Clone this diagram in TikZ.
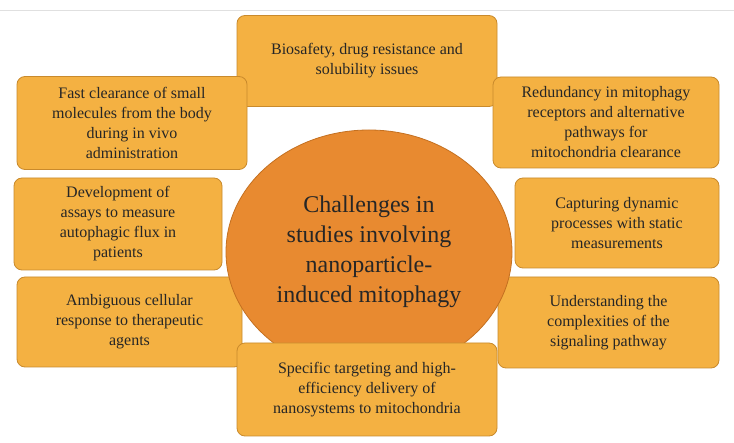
\documentclass[tikz,border=0pt]{standalone}
\usepackage{fontspec}
\setmainfont{Liberation Serif}
\usetikzlibrary{shapes.geometric}
\definecolor{boxfill}{HTML}{F4B142}
\definecolor{boxline}{HTML}{C98A2C}
\definecolor{ellfill}{HTML}{E88A30}
\definecolor{ellline}{HTML}{C47020}
\definecolor{txt}{HTML}{262626}
\tikzset{
  box/.style={draw=boxline, fill=boxfill, line width=0.8pt, rounded corners=8pt, align=center, text=txt, font=\fontsize{16}{20}\selectfont, inner sep=0pt},
  hub/.style={ellipse, draw=ellline, fill=ellfill, line width=0.8pt, minimum width=286pt, minimum height=244pt, align=center, text=txt, font=\fontsize{24}{30}\selectfont}
}
\begin{document}
\begin{tikzpicture}[x=1pt,y=-1pt]
\useasboundingbox[fill=white] (0,0) rectangle (734,443);
\draw[black!12, line width=0.8pt] (0,10) -- (734,10);
\node[box, minimum width=260pt, minimum height=91pt] (t) at (367,61) {Biosafety, drug resistance and\\solubility issues};
\node[box, minimum width=230pt, minimum height=93pt] (tl) at (132,123) {Fast clearance of small\\molecules from the body\\during in vivo\\administration};
\node[box, minimum width=208pt, minimum height=92pt] (ml) at (118,224) {Development of\\assays to measure\\autophagic flux in\\patients};
\node[box, minimum width=225pt, minimum height=90pt] (bl) at (129.5,322) {Ambiguous cellular\\response to therapeutic\\agents};
\node[box, minimum width=226pt, minimum height=91pt] (tr) at (606,122.5) {Redundancy in mitophagy\\receptors and alternative\\pathways for\\mitochondria clearance};
\node[box, minimum width=204pt, minimum height=90pt] (mr) at (617,223) {Capturing dynamic\\processes with static\\measurements};
\node[box, minimum width=221pt, minimum height=91pt] (br) at (608.5,322.5) {Understanding the\\complexities of the\\signaling pathway};
\node[hub] (c) at (369,252) {Challenges in\\studies involving\\nanoparticle-\\induced mitophagy};
\node[box, minimum width=260pt, minimum height=93pt] (b) at (367,389.5) {Specific targeting and high-\\efficiency delivery of\\nanosystems to mitochondria};
\end{tikzpicture}
\end{document}
